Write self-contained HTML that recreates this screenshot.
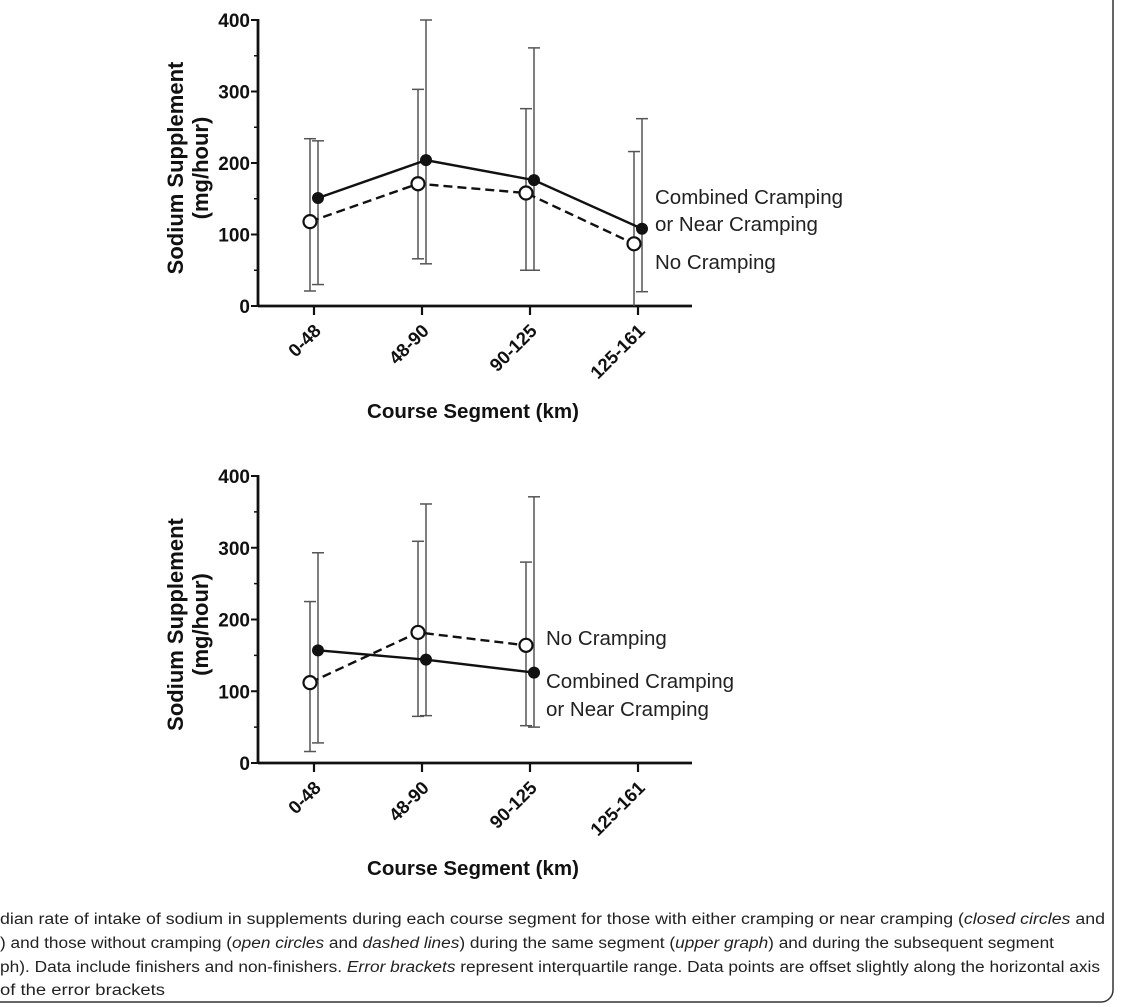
<!DOCTYPE html>
<html><head><meta charset="utf-8"><style>
html,body{margin:0;padding:0;background:#fff;}
svg{display:block;font-family:"Liberation Sans",Arial,sans-serif;}
</style></head><body>
<svg id="fig" width="1125" height="1007" viewBox="0 0 1125 1007">
<rect x="-20" y="-20" width="1133" height="1022" rx="12" fill="none" stroke="#333" stroke-width="1.5"/>
<g id="g1"></g>
<g id="g2"></g>
<g font-size="15.5" fill="#222" style="font-family:'Liberation Sans Narrow','Liberation Sans',sans-serif">
<text x="0" y="924" textLength="1105" lengthAdjust="spacingAndGlyphs">dian rate of intake of sodium in supplements during each course segment for those with either cramping or near cramping (<tspan font-style="italic">closed circles</tspan> and</text>
<text x="0" y="948" textLength="1054" lengthAdjust="spacingAndGlyphs">) and those without cramping (<tspan font-style="italic">open circles</tspan> and <tspan font-style="italic">dashed lines</tspan>) during the same segment (<tspan font-style="italic">upper graph</tspan>) and during the subsequent segment</text>
<text x="0" y="972" textLength="1100" lengthAdjust="spacingAndGlyphs">ph). Data include finishers and non-finishers. <tspan font-style="italic">Error brackets</tspan> represent interquartile range. Data points are offset slightly along the horizontal axis</text>
<text x="0" y="995" textLength="165" lengthAdjust="spacingAndGlyphs">of the error brackets</text>
</g>
</svg>
<script>
const categories = ["0-48","48-90","90-125","125-161"];
const yTicks = [0,100,200,300,400];
// upper chart
const upClosed = [151,204,176,108];
const upClosedLo = [30,59,50,20];
const upClosedHi = [231,400,361,262];
const upOpen = [118,171,158,87];
const upOpenLo = [21,66,50,0];
const upOpenHi = [234,303,276,216];
// lower chart
const loClosed = [157,144,126];
const loClosedLo = [28,66,50];
const loClosedHi = [293,361,371];
const loOpen = [112,182,164];
const loOpenLo = [16,65,52];
const loOpenHi = [225,309,280];

const NS="http://www.w3.org/2000/svg";
function mk(parent,tag,attrs,text){
  const e=document.createElementNS(NS,tag);
  for(const k in attrs) e.setAttribute(k,attrs[k]);
  if(text!==undefined) e.textContent=text;
  parent.appendChild(e); return e;
}
function chart(g, y0, y400, closed, cLo, cHi, open, oLo, oHi, legend){
  const xAxis=258, xEnd=692;
  const xs=i=>314+i*108;
  const ys=v=>y0-(v/400)*(y0-y400);
  let e;
  e=mk(g,'line',{x1:xAxis,y1:y400-1,x2:xAxis,y2:y0,stroke:'#111','stroke-width':2.8});
  
  
  e=mk(g,'line',{x1:xAxis,y1:y0,x2:xEnd,y2:y0,stroke:'#111','stroke-width':2.8});
  
  
  yTicks.forEach(t=>{
    mk(g,'line',{x1:xAxis-7,y1:ys(t),x2:xAxis,y2:ys(t),stroke:'#111','stroke-width':2});
    e=mk(g,'text',{x:xAxis-8,y:ys(t)+7,'text-anchor':'end','font-size':19,'font-weight':'bold',fill:'#111'},String(t));
    
    
  });
  [50,150,250,350].forEach(t=>mk(g,'line',{x1:xAxis-4,y1:ys(t),x2:xAxis,y2:ys(t),stroke:'#111','stroke-width':1.5}));
  categories.forEach((c,i)=>{
    mk(g,'line',{x1:xs(i),y1:y0,x2:xs(i),y2:y0+9,stroke:'#111','stroke-width':2.2});
    e=mk(g,'text',{x:0,y:0,'text-anchor':'end','font-size':18.5,'font-weight':'bold',fill:'#111',transform:`translate(${xs(i)+8},${y0+26}) rotate(-45)`},c);
    
    
  });
  e=mk(g,'text',{x:473,y:y0+112,'text-anchor':'middle','font-size':20.5,'font-weight':'bold',fill:'#111'},'Course Segment (km)');
  
  
  const ym=(y0+y400)/2;
  e=mk(g,'text',{x:0,y:0,'text-anchor':'middle','font-size':22,'font-weight':'bold',fill:'#111',transform:`translate(183,${ym+5}) rotate(-90)`},'Sodium Supplement');
  
  
  e=mk(g,'text',{x:0,y:0,'text-anchor':'middle','font-size':22,'font-weight':'bold',fill:'#111',transform:`translate(208,${ym+5}) rotate(-90)`},'(mg/hour)');
  
  
  function errs(lo,hi,dx,name){
    lo.forEach((v,i)=>{
      const x=xs(i)+dx;
      const eg=mk(g,'g',{stroke:'#555','stroke-width':1.5});
      
      
      mk(eg,'line',{x1:x,y1:ys(hi[i]),x2:x,y2:ys(v)});
      mk(eg,'line',{x1:x-6,y1:ys(hi[i]),x2:x+6,y2:ys(hi[i])});
      if(v>0) mk(eg,'line',{x1:x-6,y1:ys(v),x2:x+6,y2:ys(v)});
    });
  }
  errs(oLo,oHi,-4,'open-error-bar');
  errs(cLo,cHi,4,'closed-error-bar');
  let p=open.map((v,i)=>`${xs(i)-4},${ys(v)}`).join(' ');
  e=mk(g,'polyline',{points:p,fill:'none',stroke:'#111','stroke-width':2.4,'stroke-dasharray':'9,5'});
  
  
  p=closed.map((v,i)=>`${xs(i)+4},${ys(v)}`).join(' ');
  e=mk(g,'polyline',{points:p,fill:'none',stroke:'#111','stroke-width':2.4});
  
  
  open.forEach((v,i)=>{
    e=mk(g,'circle',{cx:xs(i)-4,cy:ys(v),r:6.5,fill:'#fff',stroke:'#111','stroke-width':2.2});
    
    
  });
  closed.forEach((v,i)=>{
    e=mk(g,'circle',{cx:xs(i)+4,cy:ys(v),r:6,fill:'#111'});
    
    
  });
  legend.forEach(l=>{
    e=mk(g,'text',{x:l[0],y:l[1],'font-size':20.5,fill:'#222'},l[2]);
    
    
  });
}
chart(document.getElementById('g1'),306,20,upClosed,upClosedLo,upClosedHi,upOpen,upOpenLo,upOpenHi,
  [[655,204,'Combined Cramping'],[655,231,'or Near Cramping'],[655,269,'No Cramping']]);
chart(document.getElementById('g2'),763,476,loClosed,loClosedLo,loClosedHi,loOpen,loOpenLo,loOpenHi,
  [[546,645,'No Cramping'],[546,688,'Combined Cramping'],[546,716,'or Near Cramping']]);
</script>
</body></html>
